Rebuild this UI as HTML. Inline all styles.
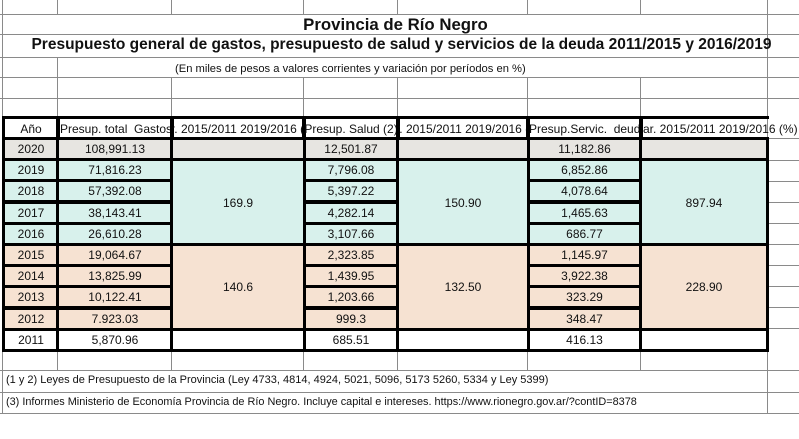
<!DOCTYPE html>
<html><head><meta charset="utf-8"><style>
body{margin:0;width:799px;height:439px;background:#fff;position:relative;overflow:hidden;font-family:"Liberation Sans",Arial,sans-serif;color:#111}
.g{position:absolute;background:#8a8a8a}
.c{position:absolute;box-sizing:border-box;border:3px solid #000;display:flex;align-items:center;justify-content:center;font-size:12px;white-space:nowrap;overflow:hidden}
.t{position:absolute;white-space:nowrap}
</style></head><body>
<div class="g" style="left:0;top:14px;width:799px;height:1px"></div>
<div class="g" style="left:0;top:34px;width:799px;height:1px"></div>
<div class="g" style="left:0;top:57px;width:799px;height:1px"></div>
<div class="g" style="left:0;top:77px;width:799px;height:1px"></div>
<div class="g" style="left:0;top:98px;width:799px;height:1px"></div>
<div class="g" style="left:767px;top:138px;width:32px;height:1px"></div>
<div class="g" style="left:767px;top:160px;width:32px;height:1px"></div>
<div class="g" style="left:767px;top:181px;width:32px;height:1px"></div>
<div class="g" style="left:767px;top:202px;width:32px;height:1px"></div>
<div class="g" style="left:767px;top:223px;width:32px;height:1px"></div>
<div class="g" style="left:767px;top:244px;width:32px;height:1px"></div>
<div class="g" style="left:767px;top:265px;width:32px;height:1px"></div>
<div class="g" style="left:767px;top:286px;width:32px;height:1px"></div>
<div class="g" style="left:767px;top:307px;width:32px;height:1px"></div>
<div class="g" style="left:767px;top:328px;width:32px;height:1px"></div>
<div class="g" style="left:0;top:370px;width:799px;height:1px"></div>
<div class="g" style="left:0;top:392px;width:799px;height:1px"></div>
<div class="g" style="left:0;top:413px;width:799px;height:1px"></div>
<div class="g" style="left:2px;top:0;width:1px;height:413px"></div>
<div class="g" style="left:767px;top:0;width:1px;height:413px"></div>
<div class="g" style="left:57px;top:0;width:1px;height:14px"></div>
<div class="g" style="left:171px;top:0;width:1px;height:14px"></div>
<div class="g" style="left:303px;top:0;width:1px;height:14px"></div>
<div class="g" style="left:397px;top:0;width:1px;height:14px"></div>
<div class="g" style="left:527px;top:0;width:1px;height:14px"></div>
<div class="g" style="left:640px;top:0;width:1px;height:14px"></div>
<div class="g" style="left:57px;top:57px;width:1px;height:20px"></div>
<div class="g" style="left:171px;top:77px;width:1px;height:40px"></div>
<div class="g" style="left:57px;top:77px;width:1px;height:40px"></div>
<div class="g" style="left:303px;top:77px;width:1px;height:40px"></div>
<div class="g" style="left:397px;top:77px;width:1px;height:40px"></div>
<div class="g" style="left:527px;top:77px;width:1px;height:40px"></div>
<div class="g" style="left:640px;top:77px;width:1px;height:40px"></div>
<div class="g" style="left:57px;top:350px;width:1px;height:20px"></div>
<div class="g" style="left:171px;top:350px;width:1px;height:20px"></div>
<div class="g" style="left:303px;top:350px;width:1px;height:20px"></div>
<div class="g" style="left:397px;top:350px;width:1px;height:20px"></div>
<div class="g" style="left:527px;top:350px;width:1px;height:20px"></div>
<div class="g" style="left:640px;top:350px;width:1px;height:20px"></div>

<div class="t" style="left:0;width:791px;text-align:center;top:15px;font-size:16.8px;font-weight:bold">Provincia de Río Negro</div>
<div class="t" style="left:0;width:803px;text-align:center;top:36px;font-size:15.5px;font-weight:bold">Presupuesto general de gastos, presupuesto de salud y servicios de la deuda 2011/2015 y 2016/2019</div>
<div class="t" style="left:175px;top:63px;font-size:11.2px">(En miles de pesos a valores corrientes y variación por períodos en %)</div>

<div class="c" style="left:2px;top:116px;width:58px;height:25px">Año</div>
<div class="c" style="left:56px;top:116px;width:118px;height:25px;justify-content:flex-start;padding-left:1px">Presup. total&nbsp; Gastos (1)</div>
<div class="c" style="left:170px;top:116px;width:136px;height:25px">Var. 2015/2011 2019/2016 (%)</div>
<div class="c" style="left:302px;top:116px;width:98px;height:25px">Presup. Salud (2)</div>
<div class="c" style="left:396px;top:116px;width:134px;height:25px">Var. 2015/2011 2019/2016 (%)</div>
<div class="c" style="left:526px;top:116px;width:117px;height:25px;justify-content:flex-start;padding-left:0">Presup.Servic.&nbsp; deuda (3)</div>
<div class="c" style="left:639px;top:116px;width:130px;height:25px;border-right:none;justify-content:flex-start;padding-left:1px;overflow:visible">ar. 2015/2011 2019/2016 (%)</div>

<div id="rows"></div>
<script>
var rows=[["2020","108,991.13","12,501.87","11,182.86","#e7e5e1"],
["2019","71,816.23","7,796.08","6,852.86","#d8f1ec"],
["2018","57,392.08","5,397.22","4,078.64","#d8f1ec"],
["2017","38,143.41","4,282.14","1,465.63","#d8f1ec"],
["2016","26,610.28","3,107.66","686.77","#d8f1ec"],
["2015","19,064.67","2,323.85","1,145.97","#f6e2d2"],
["2014","13,825.99","1,439.95","3,922.38","#f6e2d2"],
["2013","10,122.41","1,203.66","323.29","#f6e2d2"],
["2012","7.923.03","999.3","348.47","#f6e2d2"],
["2011","5,870.96","685.51","416.13","#fff"]];
var h="",xs=[[2,58],[56,118],[302,98],[526,117]];
rows.forEach(function(r,i){var y=137+i*21.2;
[r[0],r[1],r[2],r[3]].forEach(function(t,j){h+='<div class="c" style="left:'+xs[j][0]+'px;top:'+y+'px;width:'+xs[j][1]+'px;height:24px;background:'+r[4]+'">'+t+'</div>';});});
function m(y,hh,bg,a,b,c){h+='<div class="c" style="left:170px;top:'+y+'px;width:136px;height:'+hh+'px;background:'+bg+'">'+a+'</div>';
h+='<div class="c" style="left:396px;top:'+y+'px;width:134px;height:'+hh+'px;background:'+bg+'">'+b+'</div>';
h+='<div class="c" style="left:639px;top:'+y+'px;width:130px;height:'+hh+'px;background:'+bg+'">'+c+'</div>';}
m(137,24,"#e7e5e1","","","");
m(158.2,88.8,"#d8f1ec","169.9","150.90","897.94");
m(243,88.8,"#f6e2d2","140.6","132.50","228.90");
m(327.8,24,"#fff","","","");
document.getElementById("rows").innerHTML=h;
</script>
<div class="t" style="left:6px;top:374px;font-size:11px">(1 y 2) Leyes de Presupuesto de la Provincia (Ley 4733, 4814, 4924, 5021, 5096, 5173 5260, 5334 y Ley 5399)</div>
<div class="t" style="left:6px;top:396px;font-size:10.9px">(3) Informes Ministerio de Economía Provincia de Río Negro. Incluye capital e intereses. https://www.rionegro.gov.ar/?contID=8378</div>
</body></html>
